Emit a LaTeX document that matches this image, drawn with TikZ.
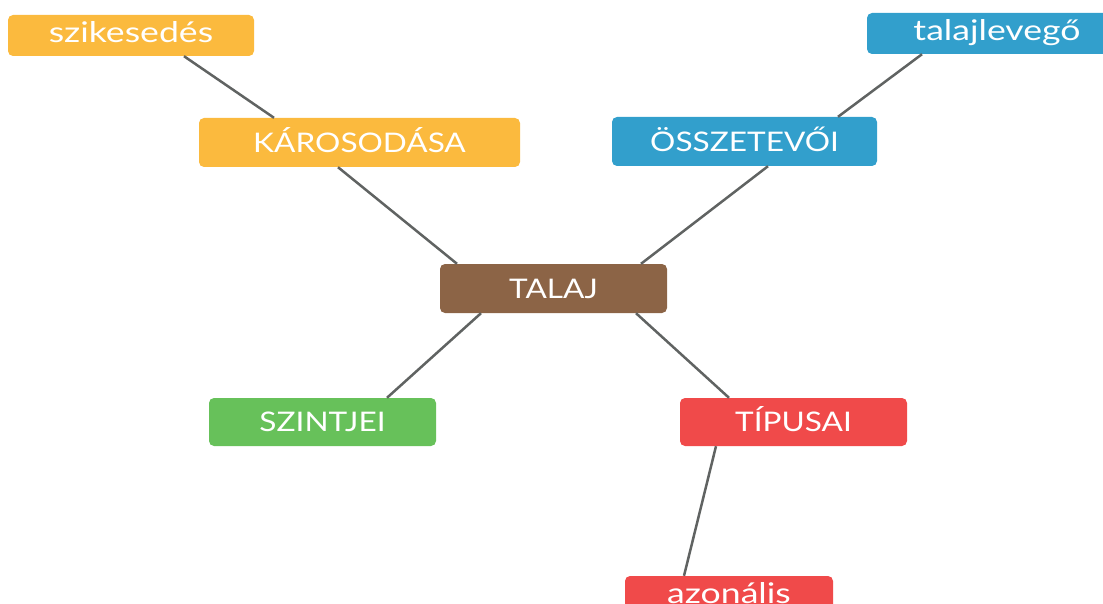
\documentclass[tikz,border=0pt]{standalone}
\usepackage{fontspec}
\setmainfont{Lato}
\newfontfamily\capsfont[FakeStretch=1.17]{Lato}
\newfontfamily\lowfont[FakeStretch=1.25]{Lato}
\definecolor{boxorange}{HTML}{FBBA3E}
\definecolor{boxblue}{HTML}{329FCC}
\definecolor{boxbrown}{HTML}{8C6446}
\definecolor{boxgreen}{HTML}{67C15A}
\definecolor{boxred}{HTML}{F04A4A}
\definecolor{linkgray}{HTML}{606362}
\tikzset{
  box/.style={rounded corners=5pt, inner sep=0pt, text=white},
  capsbox/.style={box, minimum height=49pt, text height=19.3pt, text depth=0pt,
    font=\capsfont\fontsize{27}{30}\selectfont},
  lowbox/.style={box, minimum height=41pt, text height=14.4pt, text depth=0pt,
    font=\lowfont\fontsize{28.5}{32}\selectfont},
  link/.style={draw=linkgray, line width=2.5pt}
}
\begin{document}
\begin{tikzpicture}[x=1pt,y=-1pt]
\useasboundingbox (0,0) rectangle (1103,604);
\clip (0,0) rectangle (1103,604);
% topic boxes
\node[lowbox, fill=boxorange, minimum width=246pt] (szik) at (131,35.5) {szikesedés};
\node[capsbox, fill=boxorange, minimum width=321pt] (karos) at (359.5,142.5) {KÁROSODÁSA};
\node[capsbox, fill=boxblue, minimum width=265pt] (ossz) at (744.5,141.5) {ÖSSZETEVŐI};
\node[lowbox, fill=boxblue, minimum width=260pt] (lev) at (997,33.5) {talajlevegő};
\node[capsbox, fill=boxbrown, minimum width=227pt] (talaj) at (553.5,288.5) {TALAJ};
\node[capsbox, fill=boxgreen, minimum width=227pt, minimum height=48pt] (szint) at (322.5,422) {SZINTJEI};
\node[capsbox, fill=boxred, minimum width=227pt, minimum height=48pt] (tip) at (793.5,422) {TÍPUSAI};
\node[lowbox, fill=boxred, minimum width=208pt] (azon) at (729,596.5) {azonális};
% connectors
\draw[link] ([xshift=53pt]szik.south) -- ([xshift=-85.5pt]karos.north);
\draw[link] ([xshift=-21.5pt]karos.south) -- ([xshift=-96.5pt]talaj.north);
\draw[link] ([xshift=87.5pt]talaj.north) -- ([xshift=23.5pt]ossz.south);
\draw[link] ([xshift=93.5pt]ossz.north) -- ([xshift=-75pt]lev.south);
\draw[link] ([xshift=-72.5pt]talaj.south) -- ([xshift=64.5pt]szint.north);
\draw[link] ([xshift=82.5pt]talaj.south) -- ([xshift=-64.5pt]tip.north);
\draw[link] ([xshift=-77.5pt]tip.south) -- ([xshift=-45pt]azon.north);
\end{tikzpicture}
\end{document}
